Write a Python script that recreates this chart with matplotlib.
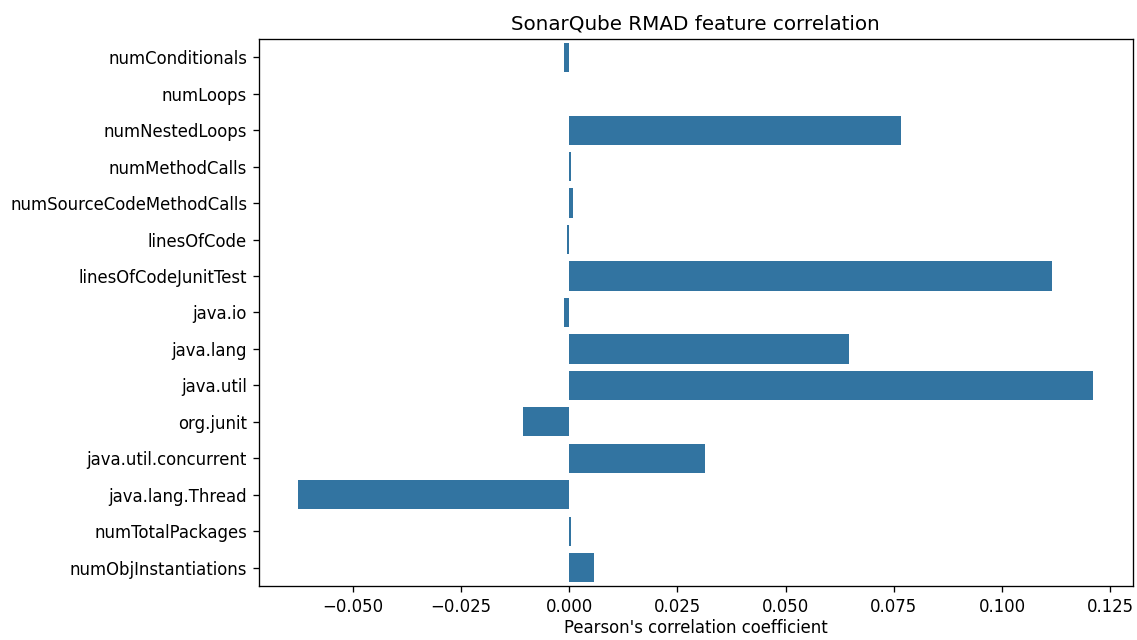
import matplotlib
matplotlib.use("Agg")
import matplotlib.pyplot as plt

# feature names and their correlation with RMAD
features = ["numConditionals", "numLoops", "numNestedLoops", "numMethodCalls",
            "numSourceCodeMethodCalls", "linesOfCode", "linesOfCodeJunitTest",
            "java.io", "java.lang", "java.util", "org.junit",
            "java.util.concurrent", "java.lang.Thread", "numTotalPackages",
            "numObjInstantiations"]
corr = [-0.0013, 0.0, 0.0766, 0.0005, 0.0008, -0.0005, 0.1116,
        -0.0013, 0.0647, 0.1210, -0.0106, 0.0314, -0.0626, 0.0003, 0.0058]

DPI = 119
fig = plt.figure(figsize=(1137 / DPI, 640 / DPI), dpi=DPI)
ax = fig.add_axes([0.2275, 0.0844, 0.7687, 0.8547])

pos = list(range(len(features)))
ax.barh(pos, corr, height=0.8, color="#3274a1")
ax.set_yticks(pos)
ax.set_yticklabels(features)
ax.set_ylim(len(features) - 0.5, -0.5)

lo, hi = min(corr), max(corr)
pad = (hi - lo) * 0.05
ax.set_xlim(lo - pad, hi + pad)
ax.set_xticks([-0.05, -0.025, 0, 0.025, 0.05, 0.075, 0.1, 0.125])
ax.set_xticklabels(["\u22120.050", "\u22120.025", "0.000", "0.025", "0.050",
                    "0.075", "0.100", "0.125"])

ax.set_xlabel("Pearson's correlation coefficient", labelpad=2)
ax.set_title("SonarQube RMAD feature correlation", fontsize=12)

fig.savefig("out.png", dpi=DPI)
